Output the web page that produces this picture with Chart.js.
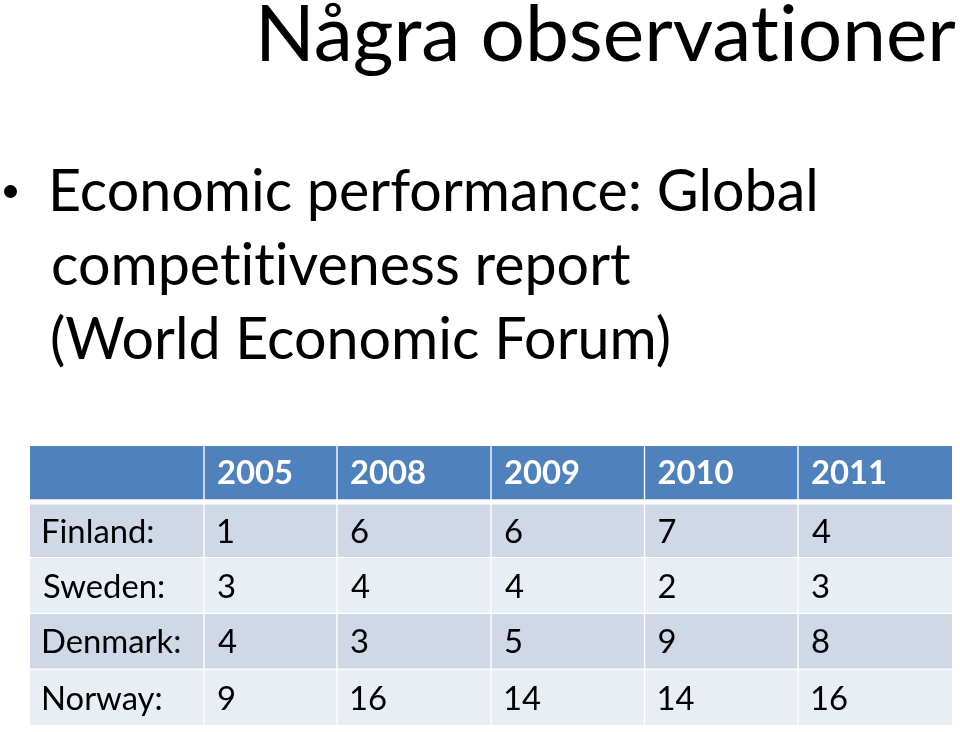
<!DOCTYPE html>
<html><head><meta charset="utf-8">
<script src="https://cdn.jsdelivr.net/npm/chart.js@4.4.1/dist/chart.umd.min.js"></script>
<style>
html,body{margin:0;padding:0;background:#fff;width:960px;height:732px;overflow:hidden;position:relative;}
.t{position:absolute;white-space:nowrap;color:#000;font-family:Lato,sans-serif;margin:0;padding:0;font-variant-ligatures:none;font-feature-settings:"liga" 0,"clig" 0,"dlig" 0;}
#dot{position:absolute;width:13px;height:13px;border-radius:50%;background:#000;left:3.5px;top:184.5px;}
#wrap{position:absolute;left:30px;top:446px;width:922px;height:279px;}
</style></head><body>
<div id="title" class="t"></div>
<div id="dot"></div>
<div id="l1" class="t"></div>
<div id="l2" class="t"></div>
<div id="l3" class="t"></div>
<div id="wrap"><canvas id="c" width="922" height="279"></canvas></div>
<script>
// ---- data ----
const TITLE = 'Några observationer';
const BULLET_LINES = ['Economic performance: Global', 'competitiveness report', '(World Economic Forum)'];
const YEARS = ['2005', '2008', '2009', '2010', '2011'];
const COUNTRIES = ['Finland:', 'Sweden:', 'Denmark:', 'Norway:'];
const FINLAND = [1, 6, 6, 7, 4];
const SWEDEN = [3, 4, 4, 2, 3];
const DENMARK = [4, 3, 5, 9, 8];
const NORWAY = [9, 16, 14, 14, 16];

// ---- layout constants ----
const COL_WIDTHS = [174, 133, 154, 153.5, 153.5, 154];
const FAMILY = 'Lato';
const HEADER_BG = '#4F81BD', ODD_BG = '#D0D8E8', EVEN_BG = '#E9EDF4';

const mctx = document.createElement('canvas').getContext('2d');
function inkWidth(text, weight, size){
  mctx.font = `${weight} ${size}px ${FAMILY}`;
  const m = mctx.measureText(text);
  return m.actualBoundingBoxLeft + m.actualBoundingBoxRight;
}
function fit(text, weight, target){ return 100 * target / inkWidth(text, weight, 100); }
function place(id, text, size, weight, inkLeft, baseline){
  const el = document.getElementById(id);
  el.textContent = text;
  el.style.fontSize = size + 'px';
  el.style.fontWeight = weight;
  mctx.font = `${weight} ${size}px ${FAMILY}`;
  const m = mctx.measureText(text);
  const A = m.fontBoundingBoxAscent, D = m.fontBoundingBoxDescent;
  el.style.lineHeight = (A + D) + 'px';
  el.style.top = (baseline - A) + 'px';
  el.style.left = (inkLeft + m.actualBoundingBoxLeft) + 'px';
}
const titleSize = fit(TITLE, 400, 695);
place('title', TITLE, titleSize, 400, 262, 61);
const bSize = fit(BULLET_LINES[0], 400, 762);
place('l1', BULLET_LINES[0], bSize, 400, 53, 211);
place('l2', BULLET_LINES[1], bSize, 400, 53, 285);
place('l3', BULLET_LINES[2], bSize, 400, 52, 359);

// ---- table via Chart.js floating horizontal bars ----
const ROW_LABELS = ['År', ...COUNTRIES];
const SERIES = [FINLAND, SWEDEN, DENMARK, NORWAY];
const edges = [0];
COL_WIDTHS.forEach(w => edges.push(edges[edges.length - 1] + w));
const cellText = [
  ['', ...COUNTRIES],
  ...YEARS.map((y, k) => [y, ...SERIES.map(s => String(s[k]))])
];
const tableSize = fit('Denmark:', 400, 135.5);

function borders(ctx){
  const r = ctx.dataIndex, c = ctx.datasetIndex;
  return {
    left: c === 0 ? 0 : 1,
    right: c === COL_WIDTHS.length - 1 ? 0 : 1,
    top: r === 0 ? 0 : (r === 1 ? 3 : 1),
    bottom: r === 0 ? 3 : (r === ROW_LABELS.length - 1 ? 0 : 1)
  };
}

const datasets = COL_WIDTHS.map((w, c) => ({
  label: 'col' + c,
  data: ROW_LABELS.map(() => [edges[c], edges[c + 1]]),
  backgroundColor: ROW_LABELS.map((_, r) => r === 0 ? HEADER_BG : (r % 2 ? ODD_BG : EVEN_BG)),
  borderColor: '#ffffff',
  borderWidth: borders,
  borderSkipped: false,
  barPercentage: 1,
  categoryPercentage: 1,
  grouped: false
}));

const textPlugin = {
  id: 'cellText',
  afterDatasetsDraw(chart){
    const ctx = chart.ctx;
    ctx.save();
    chart.data.datasets.forEach((ds, c) => {
      const meta = chart.getDatasetMeta(c);
      meta.data.forEach((el, r) => {
        const txt = cellText[c][r];
        if (!txt) return;
        const p = el.getProps(['x', 'y', 'base', 'height'], true);
        const b = borders({dataIndex: r, datasetIndex: c});
        const left = Math.min(p.x, p.base);
        const visCenter = p.y + (b.top - b.bottom) / 2;
        const weight = r === 0 ? 700 : 400;
        ctx.font = `${weight} ${tableSize}px ${FAMILY}`;
        ctx.fillStyle = r === 0 ? '#ffffff' : '#000000';
        ctx.textAlign = 'left';
        ctx.textBaseline = 'alphabetic';
        const m = ctx.measureText(txt);
        const cap = ctx.measureText('H').actualBoundingBoxAscent;
        ctx.fillText(txt, left + 14 + m.actualBoundingBoxLeft, visCenter + cap / 2);
      });
    });
    ctx.restore();
  }
};

new Chart(document.getElementById('c'), {
  type: 'bar',
  data: { labels: ROW_LABELS, datasets },
  options: {
    indexAxis: 'y',
    responsive: false,
    animation: false,
    devicePixelRatio: 1,
    layout: { padding: 0 },
    scales: {
      x: { type: 'linear', min: 0, max: edges[edges.length - 1], display: false },
      y: { type: 'category', display: false, offset: true }
    },
    plugins: { legend: { display: false }, tooltip: { enabled: false }, title: { display: false } }
  },
  plugins: [textPlugin]
});
</script>
</body></html>
